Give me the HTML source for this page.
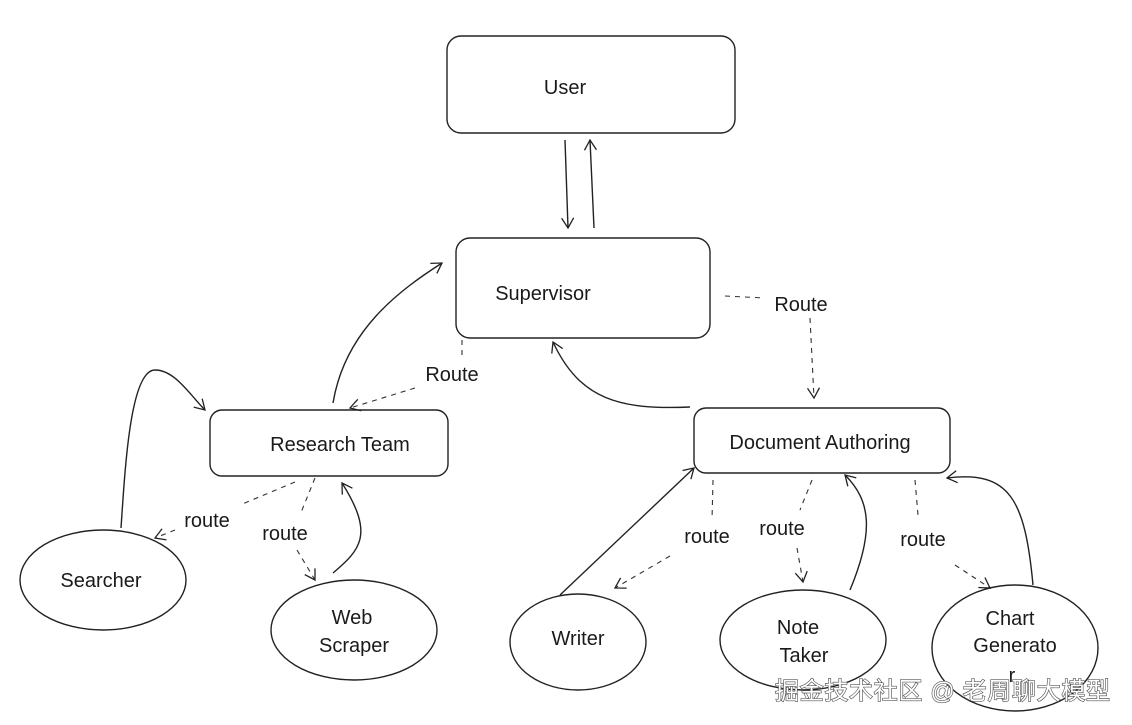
<!DOCTYPE html>
<html><head><meta charset="utf-8"><style>
html,body{margin:0;padding:0;background:#fff;}
svg{display:block}
text{font-family:"Liberation Sans",sans-serif;font-size:20px;fill:#1a1a1a;}
</style></head><body>
<svg width="1132" height="725" viewBox="0 0 1132 725" xmlns="http://www.w3.org/2000/svg">
<defs>
<marker id="a" markerWidth="14" markerHeight="14" refX="11" refY="7" orient="auto" markerUnits="userSpaceOnUse">
<path d="M1,1 L11,7 L1,13" fill="none" stroke="#222" stroke-width="1.3"/>
</marker>
</defs>
<g fill="none" stroke="#222" stroke-width="1.4">
<rect x="447" y="36" width="288" height="97" rx="14"/>
<rect x="456" y="238" width="254" height="100" rx="14"/>
<rect x="210" y="410" width="238" height="66" rx="12"/>
<rect x="694" y="408" width="256" height="65" rx="12"/>
<ellipse cx="103" cy="580" rx="83" ry="50"/>
<ellipse cx="354" cy="630" rx="83" ry="50"/>
<ellipse cx="578" cy="642" rx="68" ry="48"/>
<ellipse cx="803" cy="640" rx="83" ry="50"/>
<ellipse cx="1015" cy="648" rx="83" ry="63"/>
<path d="M565,140 L568,228" marker-end="url(#a)"/>
<path d="M594,228 L590,140" marker-end="url(#a)"/>
<path d="M333,403 C345,330 400,290 442,263" marker-end="url(#a)"/>
<path d="M690,407 C620,410 580,400 553,342" marker-end="url(#a)"/>
<path d="M121,528 C125,470 130,370 155,370 C175,370 190,395 205,410" marker-end="url(#a)"/>
<path d="M333,573 C360,550 375,535 342,483" marker-end="url(#a)"/>
<path d="M560,595 L694,468" marker-end="url(#a)"/>
<path d="M850,590 C875,530 870,500 845,475" marker-end="url(#a)"/>
<path d="M1033,585 C1025,500 1010,470 947,478" marker-end="url(#a)"/>
</g>
<g fill="none" stroke="#333" stroke-width="1.1" stroke-dasharray="5,5">
<path d="M725,296 L765,298"/>
<path d="M810,318 L814,398" marker-end="url(#a)"/>
<path d="M462,340 L462,360"/>
<path d="M415,388 L350,408" marker-end="url(#a)"/>
<path d="M295,482 L240,505"/>
<path d="M175,530 L155,538" marker-end="url(#a)"/>
<path d="M315,478 L300,515"/>
<path d="M297,550 L315,580" marker-end="url(#a)"/>
<path d="M713,480 L712,520"/>
<path d="M670,556 L615,588" marker-end="url(#a)"/>
<path d="M812,480 L800,510"/>
<path d="M797,548 L803,582" marker-end="url(#a)"/>
<path d="M915,480 L918,515"/>
<path d="M955,565 L990,588" marker-end="url(#a)"/>
</g>
<text x="565" y="94" text-anchor="middle">User</text>
<text x="543" y="300" text-anchor="middle">Supervisor</text>
<text x="340" y="451" text-anchor="middle">Research Team</text>
<text x="820" y="449" text-anchor="middle">Document Authoring</text>
<text x="101" y="587" text-anchor="middle">Searcher</text>
<text x="352" y="624" text-anchor="middle">Web</text>
<text x="354" y="652" text-anchor="middle">Scraper</text>
<text x="578" y="645" text-anchor="middle">Writer</text>
<text x="798" y="634" text-anchor="middle">Note</text>
<text x="804" y="662" text-anchor="middle">Taker</text>
<text x="1010" y="625" text-anchor="middle">Chart</text>
<text x="1015" y="652" text-anchor="middle">Generato</text>
<text x="1012" y="682" text-anchor="middle">r</text>
<text x="801" y="311" text-anchor="middle">Route</text>
<text x="452" y="381" text-anchor="middle">Route</text>
<text x="207" y="527" text-anchor="middle">route</text>
<text x="285" y="540" text-anchor="middle">route</text>
<text x="707" y="543" text-anchor="middle">route</text>
<text x="782" y="535" text-anchor="middle">route</text>
<text x="923" y="546" text-anchor="middle">route</text>
<text x="775" y="699" textLength="335" style="font-family:'Liberation Sans','Noto Sans CJK SC',sans-serif;font-size:24px;fill:#fff;stroke:#555;stroke-width:1.3;paint-order:stroke">掘金技术社区 @ 老周聊大模型</text>
</svg>
</body></html>
